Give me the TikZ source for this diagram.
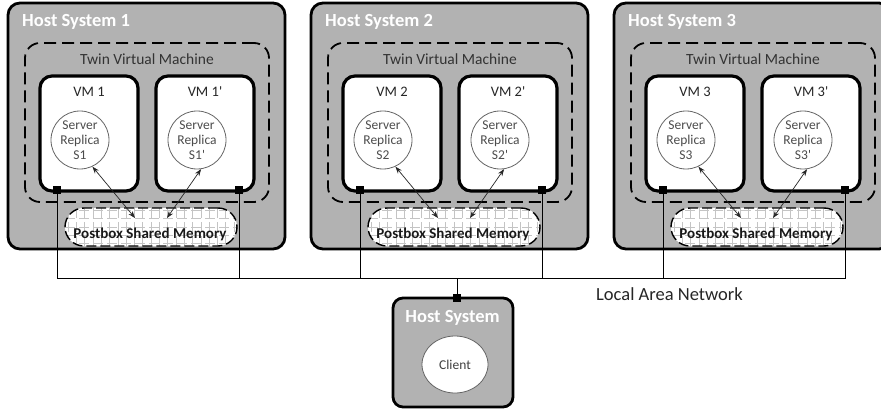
\documentclass[tikz,border=0pt]{standalone}
\usepackage{fontspec}
\setmainfont{Carlito}
\usetikzlibrary{arrows.meta,shapes.geometric}

\definecolor{hostgray}{RGB}{178,178,178}
\definecolor{gridgray}{RGB}{196,196,196}

\begin{document}
\begin{tikzpicture}[x=1pt, y=-1pt,
	hostbox/.style={draw=black, line width=2.8pt, fill=hostgray, rounded corners=12pt, inner sep=0pt},
	hosttitle/.style={text=white, font=\fontsize{18.5}{22}\selectfont\bfseries, inner sep=0pt},
	twinbox/.style={draw=black, line width=1.8pt, dash pattern=on 12pt off 6pt, rounded corners=15pt, inner sep=0pt},
	twinlabel/.style={text=black!80, font=\fontsize{15.5}{18}\selectfont, inner sep=0pt},
	vmbox/.style={draw=black, line width=3.2pt, fill=white, rounded corners=12pt, inner sep=0pt},
	vmlabel/.style={text=black!85, font=\fontsize{14.5}{17}\selectfont, inner sep=0pt},
	replica/.style={circle, draw=black!60, line width=0.8pt, fill=white, minimum size=58pt, inner sep=0pt,
		align=center, text=black!70, font=\fontsize{13.5}{15}\selectfont},
	postbox/.style={draw=black, line width=1.4pt, dash pattern=on 10pt off 4pt, rounded corners=19pt,
		fill=white, inner sep=0pt,
		path picture={\draw[gridgray, line width=0.6pt, step=8.3pt] (path picture bounding box.south west) grid (path picture bounding box.north east);}},
	boxlabel/.style={text=black!90, font=\fontsize{15}{18}\selectfont\bfseries, inner sep=0pt},
	port/.style={fill=black, minimum size=8pt, inner sep=0pt},
	link/.style={black!85, line width=0.7pt, {Stealth[length=7pt,width=5pt]}-{Stealth[length=7pt,width=5pt]}},
	lanline/.style={black, line width=0.9pt}]

\useasboundingbox (0,0) rectangle (881,409);
\clip (0,0) rectangle (881,409);

\coordinate (lan) at (457,278);

\foreach \i [evaluate=\i as \dx using (\i-1)*303] in {1,2,3} {
	\node[hostbox, minimum width=277pt, minimum height=246pt] (h\i) at (146.5+\dx,126) {};
	\node[hosttitle, anchor=base west] (t\i) at (22+\dx,27) {Host System \i};

	\node[twinbox, minimum width=244pt, minimum height=159pt] (tw\i) at (147+\dx,122.5) {};
	\node[twinlabel, anchor=base] (twl\i) at (147+\dx,65) {Twin Virtual Machine};

	\node[vmbox, minimum width=98pt, minimum height=115pt] (vm\i) at (89+\dx,133.5) {};
	\node[vmbox, minimum width=98pt, minimum height=115pt] (vmp\i) at (205+\dx,133.5) {};
	\node[vmlabel, anchor=base] (vml\i) at (89+\dx,97) {VM \i};
	\node[vmlabel, anchor=base] (vmpl\i) at (205+\dx,97) {VM \i\textquotesingle};

	\node[replica] (s\i) at (80+\dx,140) {Server\\Replica\\S\i};
	\node[replica] (sp\i) at (197+\dx,140) {Server\\Replica\\S\i\textquotesingle};

	\node[postbox, minimum width=172pt, minimum height=38pt] (pb\i) at (151+\dx,227) {};
	\node[boxlabel, anchor=base] (pbl\i) at (150+\dx,238) {Postbox Shared Memory};

	\draw[link] (s\i.-65) -- ([xshift=-16pt,yshift=9pt]pb\i.center);
	\draw[link] (sp\i.-82) -- ([xshift=16pt,yshift=9pt]pb\i.center);

	\node[port] (p\i) at (57+\dx,190) {};
	\node[port] (pp\i) at (239+\dx,190) {};
	\draw[lanline] (p\i) |- (lan);
	\draw[lanline] (pp\i) |- (lan);
}

% client side
\node[hostbox, minimum width=120pt, minimum height=109pt, rounded corners=10pt] (host) at (453,352.5) {};
\node[hosttitle, anchor=base] (hostl) at (452.5,322) {Host System};
\node[ellipse, draw=black!60, line width=0.8pt, fill=white, minimum width=66pt, minimum height=57pt,
	inner sep=0pt, text=black!75, font=\fontsize{13.5}{15}\selectfont] (client) at (455,364.5) {Client};
\node[port] (cp) at (457,298) {};
\draw[lanline] (cp) -- (lan);

\node[text=black!85, font=\fontsize{18.5}{22}\selectfont, inner sep=0pt, anchor=base west] (lanl) at (596,300) {Local Area Network};

\end{tikzpicture}
\end{document}
